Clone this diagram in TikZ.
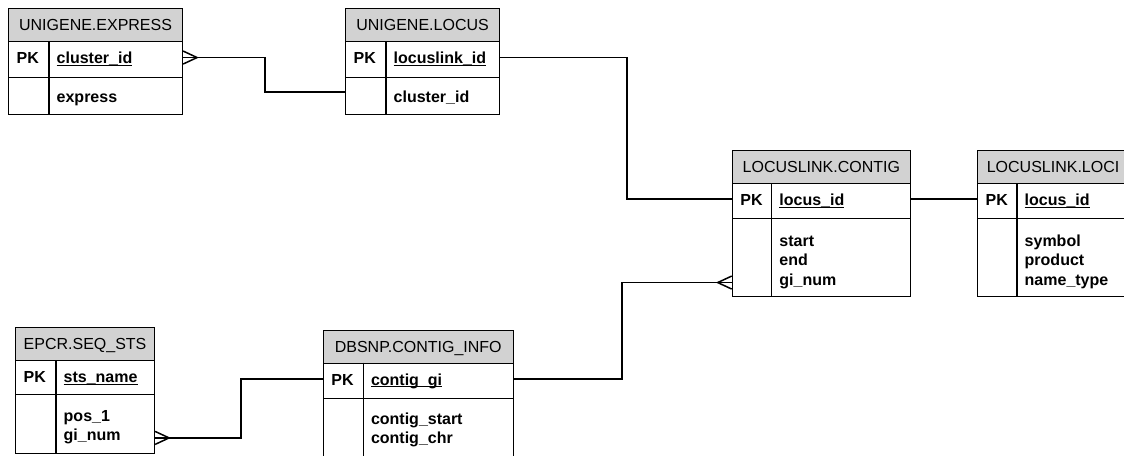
\documentclass[tikz,border=0pt]{standalone}
\usepackage{fontspec}
\setmainfont{Liberation Sans}
\definecolor{hdrgray}{RGB}{210,210,210}
\newcommand{\pkul}[1]{\setbox0\hbox{#1}\rlap{\rule[-2.4pt]{\wd0}{1.1pt}}\box0}
\tikzset{
  ebox/.style={draw=black, line width=1.1pt, inner sep=0pt, anchor=north west},
  hdr/.style={ebox, fill=hdrgray},
  htext/.style={font=\fontsize{16}{19.5}\selectfont, inner sep=0pt, text height=11.5pt, text depth=0pt},
  ftext/.style={font=\fontsize{16}{19.5}\selectfont\bfseries, inner sep=0pt, anchor=base west},
  conn/.style={draw=black, line width=1.8pt},
  crowline/.style={draw=black, line width=1.5pt},
}
% #1 name, #2 x1, #3 y1, #4 x2, #5 divider x, #6 header bottom, #7 pk bottom, #8 bottom, #9 title
\newcommand{\entity}[9]{%
  \node[hdr, minimum width={(#4-#2)*1pt}, minimum height={(#6-#3)*1pt}] (#1-h) at (#2,#3) {};
  \node[htext] (#1-t) at (#1-h.center) {#9};
  \node[ebox, minimum width={(#4-#2)*1pt}, minimum height={(#7-#6)*1pt}] (#1-k) at (#2,#6) {};
  \node[ebox, minimum width={(#4-#2)*1pt}, minimum height={(#8-#7)*1pt}] (#1-a) at (#2,#7) {};
  \draw[line width=1.1pt] (#5,#6) -- (#5,#8);
  \node[ftext] (#1-pk) at ({#2+8.5},{#6+22.3}) {PK};
}
% #1 name, #2 divider x, #3 header bottom, #4 pk bottom, #5 pk field, #6 attr list, #7 first attr offset
\newcommand{\fields}[7]{%
  \node[ftext] (#1-kf) at ({#2+7.5},{#3+22.3}) {\pkul{#5}};
  \foreach \t [count=\i] in {#6} {
    \node[ftext] (#1-f\i) at ({#2+7.5},{#4+#7+(\i-1)*19.5}) {\t};
  }
}
\newcommand{\crow}[2]{%
  \draw[crowline] ([yshift=6.5pt]#1) -- ([xshift=#2*14pt]#1) -- ([yshift=-6.5pt]#1);
}
\begin{document}
\begin{tikzpicture}[x=1pt,y=-1pt]
\path[use as bounding box] (0,0) rectangle (1124,455);
\clip (0,0) rectangle (1124,455);

\entity{exp}{8}{7.5}{182}{49}{41}{77}{114}{UNIGENE.EXPRESS}
\fields{exp}{49}{41}{77}{cluster\_id}{express}{25}

\entity{loc}{345}{7.5}{499}{386}{41}{77}{114}{UNIGENE.LOCUS}
\fields{loc}{386}{41}{77}{locuslink\_id}{cluster\_id}{25}

\entity{ctg}{731.7}{150}{910}{771.7}{183}{218}{296}{LOCUSLINK.CONTIG}
\fields{ctg}{771.7}{183}{218}{locus\_id}{start,end,gi\_num}{28}

\entity{loci}{977}{150}{1128}{1017}{183}{218}{296}{LOCUSLINK.LOCI}
\fields{loci}{1017}{183}{218}{locus\_id}{symbol,product,name\_type}{28}

\entity{sts}{15}{326.7}{154}{56}{360}{394}{452.7}{EPCR.SEQ\_STS}
\fields{sts}{56}{360}{394}{sts\_name}{pos\_1,gi\_num}{27}

\entity{snp}{322.7}{330}{512.7}{363.3}{362.7}{397.7}{480}{DBSNP.CONTIG\_INFO}
\fields{snp}{363.3}{362.7}{397.7}{contig\_gi}{contig\_start,contig\_chr}{26.5}

% connection points
\coordinate (p1) at ([yshift=2pt]exp-k.east);
\coordinate (q1) at ([yshift=4pt]loc-a.west);
\coordinate (b1) at (265,0);
\draw[conn] (p1) -- (p1 -| b1) -- (b1 |- q1) -- (q1);
\crow{p1}{1}

\coordinate (p2) at ([yshift=2pt]loc-k.east);
\coordinate (q2) at ([yshift=2pt]ctg-k.west);
\coordinate (b2) at (627,0);
\draw[conn] (p2) -- (p2 -| b2) -- (b2 |- q2) -- (q2);

\coordinate (p3) at ([yshift=2pt]ctg-k.east);
\coordinate (q3) at ([yshift=2pt]loci-k.west);
\draw[conn] (p3) -- (q3);

\coordinate (p4) at ([yshift=2pt]snp-k.east);
\coordinate (q4) at ([yshift=-25pt]ctg-a.west);
\coordinate (b4) at (621.7,0);
\draw[conn] (p4) -- (p4 -| b4) -- (b4 |- q4) -- (q4);
\crow{q4}{-1}

\coordinate (p5) at ([yshift=-14pt]sts-a.east);
\coordinate (q5) at ([yshift=2pt]snp-k.west);
\coordinate (b5) at (240.7,0);
\draw[conn] (p5) -- (p5 -| b5) -- (b5 |- q5) -- (q5);
\crow{p5}{1}
\end{tikzpicture}
\end{document}
